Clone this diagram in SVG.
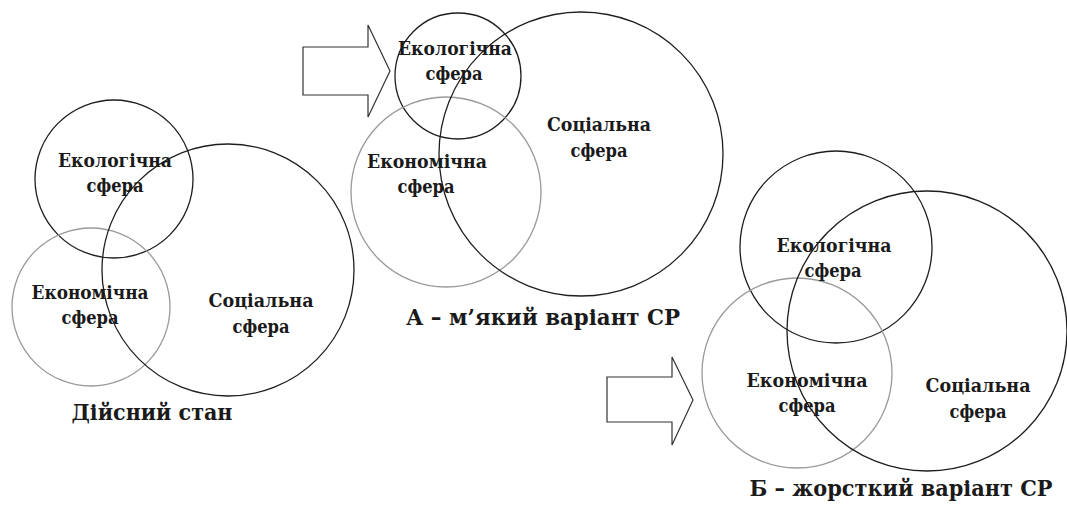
<svg xmlns="http://www.w3.org/2000/svg" width="1067" height="512" viewBox="0 0 1067 512">
<style>
.d{fill:none;stroke:#1e1e1e;stroke-width:1.3}
.g{fill:none;stroke:#9a9a9a;stroke-width:1.3}
.ar{fill:#fff;stroke:#333;stroke-width:1.2}
.l,.t{font-family:'DejaVu Serif',serif;font-weight:bold;fill:#1a1a1a;text-anchor:middle}
.l{font-size:18px}
.t{font-size:23px}
.tb{font-size:22px}
</style>
<rect width="1067" height="512" fill="#fff"/>
<g id="connectors">
<path class="ar" d="M303,47 H368 V25 L390,71 L368,117 V95 H303 Z"/>
<path class="ar" d="M607,377 H672 V357 L693,400 L672,445 V422 H607 Z"/>
</g>
<g id="current">
<circle class="d" cx="114" cy="179" r="79"/>
<circle class="g" cx="91" cy="307" r="79"/>
<circle class="d" cx="228" cy="270" r="126"/>
<text class="l" x="115" y="167" textLength="114" lengthAdjust="spacingAndGlyphs">Екологічна</text>
<text class="l" x="115" y="192" textLength="57" lengthAdjust="spacingAndGlyphs">сфера</text>
<text class="l" x="90" y="299" textLength="117" lengthAdjust="spacingAndGlyphs">Економічна</text>
<text class="l" x="90" y="324" textLength="57" lengthAdjust="spacingAndGlyphs">сфера</text>
<text class="l" x="261" y="307" textLength="105" lengthAdjust="spacingAndGlyphs">Соціальна</text>
<text class="l" x="261" y="333" textLength="57" lengthAdjust="spacingAndGlyphs">сфера</text>
<text class="t" x="152" y="420" textLength="161" lengthAdjust="spacingAndGlyphs">Дійсний стан</text>
</g>
<g id="variantA">
<circle class="d" cx="458" cy="76" r="63"/>
<circle class="g" cx="446" cy="192" r="95"/>
<circle class="d" cx="581" cy="154" r="142"/>
<text class="l" x="455" y="55" textLength="114" lengthAdjust="spacingAndGlyphs">Екологічна</text>
<text class="l" x="454" y="80" textLength="57" lengthAdjust="spacingAndGlyphs">сфера</text>
<text class="l" x="427" y="168" textLength="120" lengthAdjust="spacingAndGlyphs">Економічна</text>
<text class="l" x="426" y="193" textLength="57" lengthAdjust="spacingAndGlyphs">сфера</text>
<text class="l" x="599" y="131" textLength="104" lengthAdjust="spacingAndGlyphs">Соціальна</text>
<text class="l" x="599" y="157" textLength="57" lengthAdjust="spacingAndGlyphs">сфера</text>
<text class="t" x="543" y="325" textLength="274" lengthAdjust="spacingAndGlyphs">А – м’який варіант СР</text>
</g>
<g id="variantB">
<circle class="d" cx="836" cy="247" r="96"/>
<circle class="g" cx="797" cy="373" r="95"/>
<circle class="d" cx="927" cy="331" r="140"/>
<text class="l" x="834" y="252" textLength="115" lengthAdjust="spacingAndGlyphs">Екологічна</text>
<text class="l" x="833" y="277" textLength="57" lengthAdjust="spacingAndGlyphs">сфера</text>
<text class="l" x="807" y="387" textLength="121" lengthAdjust="spacingAndGlyphs">Економічна</text>
<text class="l" x="807" y="412" textLength="57" lengthAdjust="spacingAndGlyphs">сфера</text>
<text class="l" x="978" y="392" textLength="105" lengthAdjust="spacingAndGlyphs">Соціальна</text>
<text class="l" x="978" y="418" textLength="57" lengthAdjust="spacingAndGlyphs">сфера</text>
<text class="t tb" x="901" y="496" textLength="303" lengthAdjust="spacingAndGlyphs">Б – жорсткий варіант СР</text>
</g>
</svg>
